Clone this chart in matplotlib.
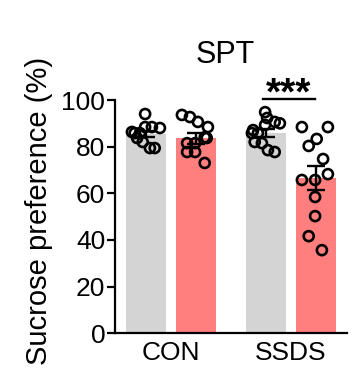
import numpy as np
import matplotlib.pyplot as plt

plt.rcParams['font.family'] = ['Liberation Sans', 'DejaVu Sans']

# Data
groups = ['CON', 'SSDS']
bar_means = [85.5, 83.5, 85.8, 66.5]
bar_sem = [1.4, 2.3, 1.6, 5.2]
bar_colors = ['#d4d4d4', '#ff7f7f', '#d4d4d4', '#ff7f7f']

con_ctrl = [94.0, 88.4, 88.0, 88.4, 85.8, 86.3, 85.8, 83.7, 82.0, 79.4, 79.4]
con_ctrl_dx = [-0.02, 0.15, 0.35, -0.02, -0.28, -0.35, -0.15, -0.22, -0.08, 0.10, 0.22]
con_ssds = [93.6, 92.7, 90.6, 88.4, 84.0, 83.7, 81.5, 81.5, 77.7, 77.7, 73.0]
con_ssds_dx = [-0.35, -0.15, 0.05, 0.30, 0.22, 0.27, -0.22, -0.02, -0.22, -0.02, 0.22]
ssds_ctrl = [94.8, 92.3, 90.6, 89.3, 90.0, 87.1, 85.8, 85.8, 82.0, 81.5, 78.5, 77.7]
ssds_ctrl_dx = [-0.02, 0.03, 0.22, -0.02, 0.35, -0.32, -0.20, -0.35, -0.28, -0.10, 0.05, 0.22]
ssds_ssds = [88.4, 88.4, 83.3, 80.3, 74.7, 68.2, 65.7, 65.7, 58.4, 50.2, 41.6, 35.6]
ssds_ssds_dx = [-0.35, 0.30, 0.02, -0.18, 0.18, 0.30, -0.35, -0.02, -0.02, -0.02, -0.18, 0.15]

points = [con_ctrl, con_ssds, ssds_ctrl, ssds_ssds]
offsets = [con_ctrl_dx, con_ssds_dx, ssds_ctrl_dx, ssds_ssds_dx]

x = np.array([0, 1.25, 3, 4.25])
group_x = [(x[0] + x[1]) / 2, (x[2] + x[3]) / 2]

fig = plt.figure(figsize=(3.58, 3.76), dpi=100)
ax = fig.add_axes([0.321, 0.114, 0.648, 0.620])

ax.bar(x, bar_means, width=1.0, color=bar_colors, zorder=1)
for xi, vals, dx in zip(x, points, offsets):
    ax.scatter(xi + np.array(dx), vals, s=52, facecolors='none',
               edgecolors='black', linewidths=1.9, zorder=3, clip_on=False)
ax.errorbar(x, bar_means, yerr=bar_sem, fmt='none', ecolor='black',
            elinewidth=1.7, capsize=6.5, capthick=1.7, zorder=4)

# significance
ax.plot([x[2] - 0.08, x[3] - 0.03], [100.3, 100.3], color='black', lw=1.7,
        clip_on=False)
ax.text((x[2] + x[3]) / 2 - 0.05, 98.0, '***', ha='center', va='baseline',
        fontsize=28, fontweight='bold', clip_on=False)

ax.set_xlim(-0.775, 5.025)
ax.set_ylim(0, 100)
ax.set_yticks([0, 20, 40, 60, 80, 100])
ax.set_xticks(group_x)
ax.set_xticklabels(groups, fontsize=19)
ax.tick_params(axis='y', labelsize=19, width=1.6, length=6, pad=1)
ax.tick_params(axis='x', length=0, pad=6)
for s in ['top', 'right']:
    ax.spines[s].set_visible(False)
for s in ['left', 'bottom']:
    ax.spines[s].set_linewidth(1.6)

fig.text(0.63, 0.855, 'SPT', ha='center', va='center', fontsize=22)
fig.text(0.109, 0.44, 'Sucrose preference (%)', rotation=90,
         ha='center', va='center', fontsize=21)

fig.savefig('out.png', dpi=100)
